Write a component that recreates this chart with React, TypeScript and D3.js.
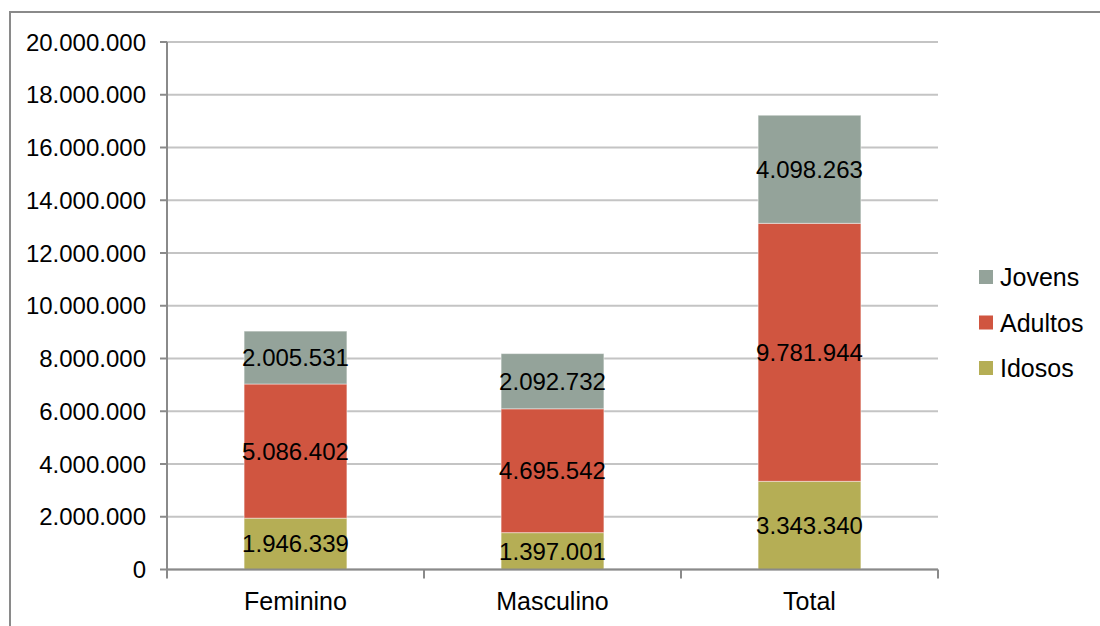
import React from "react";
import * as d3 from "d3";

// Population by sex and age group
const categories = ["Feminino", "Masculino", "Total"];
const seriesNames = ["Idosos", "Adultos", "Jovens"];
const idosos = [1946339, 1397001, 3343340];
const adultos = [5086402, 4695542, 9781944];
const jovens = [2005531, 2092732, 4098263];
const yTicks = [0, 2000000, 4000000, 6000000, 8000000, 10000000, 12000000, 14000000, 16000000, 18000000, 20000000];
const legendOrder = ["Jovens", "Adultos", "Idosos"];

const colors: Record<string, string> = {
  Idosos: "#b5ae55",
  Adultos: "#d05540",
  Jovens: "#94a39a",
};

const W = 1100;
const H = 626;
const plot = { left: 167, right: 938, top: 42, bottom: 569.5 };
const FONT = "'Liberation Sans', Arial, sans-serif";

const fmt = (v: number) => d3.format(",")(v).replace(/,/g, ".");

export default function App() {
  const rows = categories.map((c, i) => ({
    cat: c,
    Idosos: idosos[i],
    Adultos: adultos[i],
    Jovens: jovens[i],
  }));
  const stacked = d3.stack<any>().keys(seriesNames)(rows);

  const x = d3
    .scaleBand<string>()
    .domain(categories)
    .range([plot.left, plot.right])
    .paddingInner(0.6)
    .paddingOuter(0.3);
  const y = d3.scaleLinear().domain([0, 20000000]).range([plot.bottom, plot.top]);

  const step = (plot.right - plot.left) / categories.length;
  const catTicks = d3.range(categories.length + 1).map((i) => plot.left + i * step);

  return (
    <svg
      width={W}
      height={H}
      style={{ position: "absolute", left: 0, top: 0, background: "#fff" }}
      fontFamily={FONT}
    >
      <rect x={0} y={0} width={W} height={H} fill="#fff" />
      {/* outer frame */}
      <rect x={10} y={12} width={W + 20} height={H + 20} fill="none" stroke="#8a8a8a" strokeWidth={2} />

      {/* gridlines */}
      {yTicks.map((t) => (
        <line key={"g" + t} x1={plot.left} x2={plot.right} y1={y(t)} y2={y(t)} stroke="#c4c4c4" strokeWidth={2} />
      ))}

      {/* bars */}
      {stacked.map((s) =>
        s.map((d, i) => (
          <rect
            key={s.key + i}
            x={x(categories[i])}
            width={x.bandwidth()}
            y={y(d[1])}
            height={y(d[0]) - y(d[1])}
            fill={colors[s.key]}
            stroke="#ffffff"
            strokeOpacity={0.45}
            strokeWidth={1}
          />
        ))
      )}

      {/* bar labels */}
      {stacked.map((s) =>
        s.map((d, i) => (
          <text
            key={"l" + s.key + i}
            x={(x(categories[i]) as number) + x.bandwidth() / 2}
            y={(y(d[0]) + y(d[1])) / 2}
            dy="0.36em"
            textAnchor="middle"
            fontSize={24}
            fill="#000"
          >
            {fmt(d[1] - d[0])}
          </text>
        ))
      )}

      {/* y axis */}
      <line x1={plot.left} x2={plot.left} y1={plot.top} y2={plot.bottom} stroke="#8a8a8a" strokeWidth={2} />
      {yTicks.map((t) => (
        <g key={"t" + t}>
          <line x1={plot.left - 7} x2={plot.left} y1={y(t)} y2={y(t)} stroke="#8a8a8a" strokeWidth={2} />
          <text x={146} y={y(t)} dy="0.36em" textAnchor="end" fontSize={24} fill="#000">
            {fmt(t)}
          </text>
        </g>
      ))}

      {/* x axis */}
      <line x1={plot.left} x2={plot.right} y1={plot.bottom} y2={plot.bottom} stroke="#8a8a8a" strokeWidth={2} />
      {catTicks.map((cx, i) => (
        <line key={"xt" + i} x1={cx} x2={cx} y1={plot.bottom} y2={plot.bottom + 9} stroke="#8a8a8a" strokeWidth={2} />
      ))}
      {categories.map((c) => (
        <text
          key={"c" + c}
          x={(x(c) as number) + x.bandwidth() / 2}
          y={610}
          textAnchor="middle"
          fontSize={25}
          fill="#000"
        >
          {c}
        </text>
      ))}

      {/* legend */}
      {legendOrder.map((name, i) => (
        <g key={"lg" + name} transform={`translate(979, ${277 + i * 45.5})`}>
          <rect x={0} y={-7} width={14} height={14} fill={colors[name]} />
          <text x={21} y={0} dy="0.36em" fontSize={25} fill="#000">
            {name}
          </text>
        </g>
      ))}
    </svg>
  );
}
